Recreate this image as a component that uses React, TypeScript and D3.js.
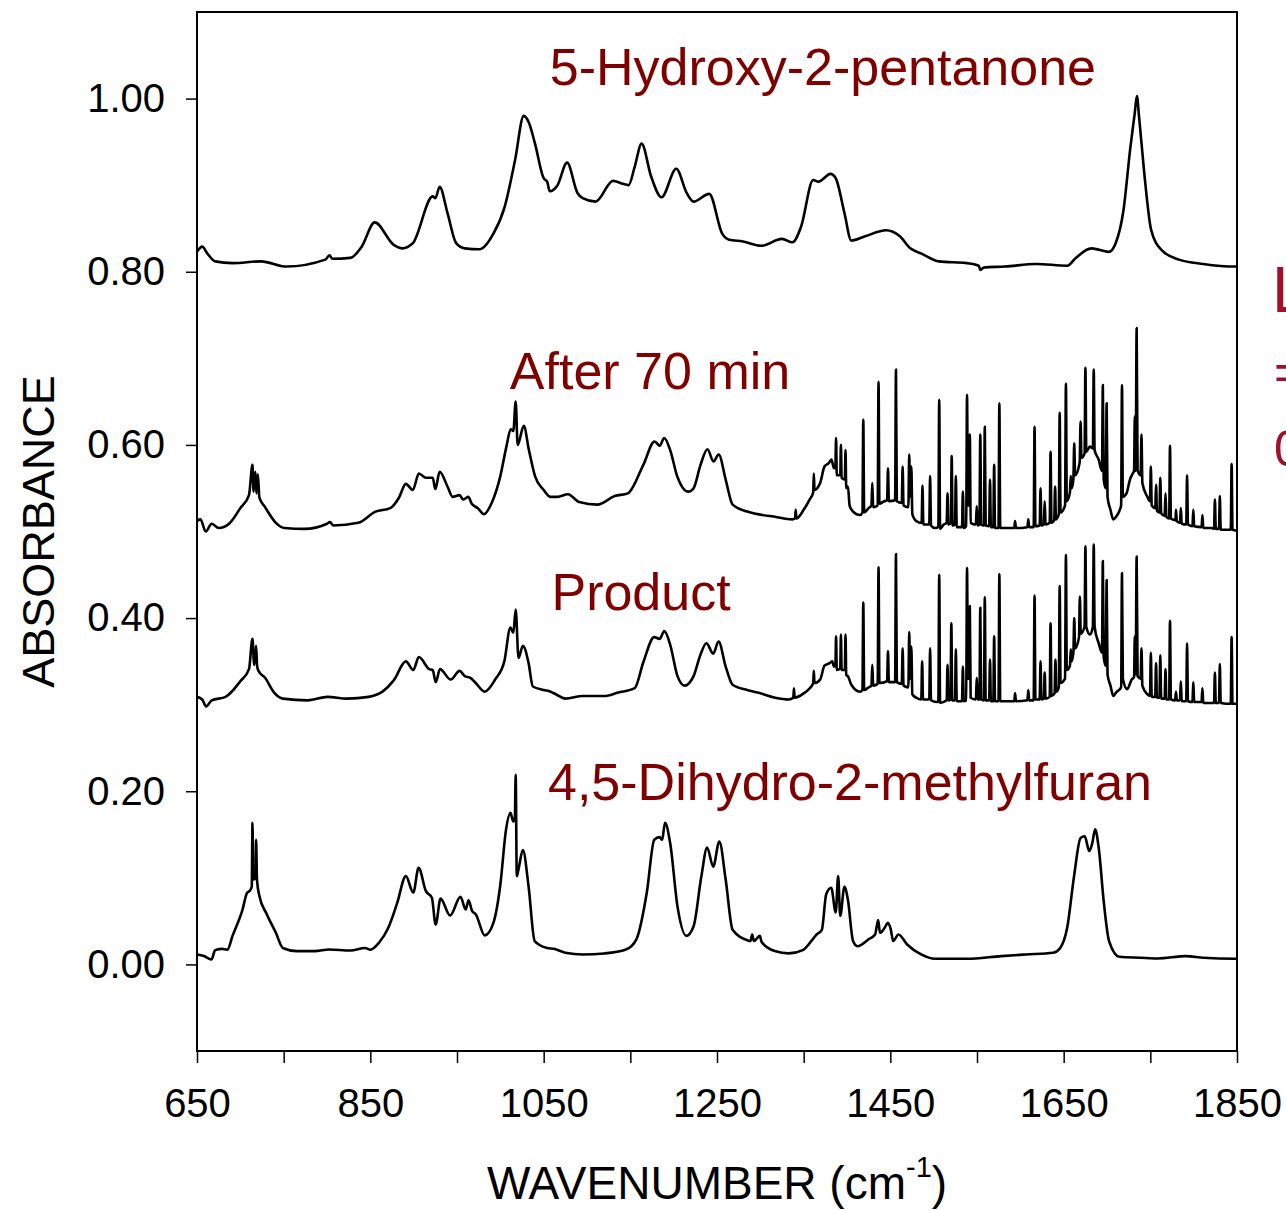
import { useEffect, useRef } from 'react'
import * as d3 from 'd3'

// Spectra: [wavenumber (cm-1), absorbance]
const hydroxyPentanone: [number, number][] = [
  [650, 0.823], [656, 0.829], [662, 0.821], [671, 0.812], [691, 0.81], [724, 0.812],
  [753, 0.806], [798, 0.814], [803, 0.819], [806, 0.815], [827, 0.816], [840, 0.829],
  [855, 0.857], [877, 0.831], [887, 0.827], [899, 0.833], [922, 0.887], [925, 0.885],
  [930, 0.898], [939, 0.868], [949, 0.833], [959, 0.827], [976, 0.826], [992, 0.844],
  [1005, 0.875], [1017, 0.929], [1027, 0.98], [1033, 0.972], [1040, 0.948], [1050, 0.908],
  [1054, 0.904], [1057, 0.893], [1066, 0.9], [1077, 0.926], [1089, 0.891], [1095, 0.885],
  [1110, 0.881], [1130, 0.905], [1140, 0.902], [1148, 0.9], [1155, 0.921], [1163, 0.948],
  [1174, 0.91], [1186, 0.886], [1203, 0.919], [1215, 0.891], [1223, 0.881], [1241, 0.89],
  [1256, 0.844], [1264, 0.837], [1280, 0.835], [1301, 0.83], [1325, 0.838], [1337, 0.834],
  [1347, 0.852], [1361, 0.906], [1367, 0.904], [1381, 0.913], [1387, 0.908], [1397, 0.868],
  [1405, 0.836], [1421, 0.841], [1445, 0.848], [1461, 0.841], [1473, 0.827], [1486, 0.821],
  [1506, 0.812], [1538, 0.81], [1552, 0.807], [1554, 0.802], [1558, 0.805], [1582, 0.806],
  [1618, 0.809], [1654, 0.807], [1664, 0.816], [1682, 0.827], [1702, 0.823], [1710, 0.833],
  [1719, 0.871], [1727, 0.944], [1732, 0.983], [1734.5, 1.003], [1737, 0.979], [1743, 0.914],
  [1751, 0.848], [1763, 0.825], [1783, 0.814], [1811, 0.809], [1847, 0.806], [1850, 0.806],
]

const after70Min: [number, number][] = [
  [650, 0.512], [654, 0.514], [660, 0.5], [667, 0.509], [675, 0.504], [687, 0.509],
  [700, 0.527], [710, 0.542], [714, 0.577], [715.3, 0.546], [717.3, 0.569], [718.6, 0.544],
  [720.2, 0.566], [722, 0.539], [728, 0.529], [741, 0.51], [751, 0.504], [774, 0.503],
  [800, 0.509], [803.5, 0.511], [807, 0.507], [836, 0.51], [856, 0.523], [873, 0.527],
  [883, 0.539], [891, 0.555], [899, 0.548], [906, 0.567], [914, 0.562], [922, 0.562],
  [925, 0.549], [930, 0.569], [939, 0.552], [945, 0.54], [953, 0.542], [957, 0.537],
  [963, 0.54], [967, 0.532], [974, 0.527], [981, 0.52], [990, 0.533], [1000, 0.564],
  [1007, 0.598], [1012, 0.618], [1015, 0.616], [1017.7, 0.65], [1020, 0.6], [1027, 0.622],
  [1033, 0.594], [1040, 0.564], [1050, 0.548], [1058, 0.54], [1066, 0.54], [1078, 0.543],
  [1091, 0.534], [1112, 0.531], [1132, 0.541], [1147, 0.544], [1165, 0.577], [1178, 0.604],
  [1184, 0.599], [1189, 0.608], [1196, 0.594], [1204, 0.564], [1217, 0.546], [1223, 0.55],
  [1231, 0.577], [1239, 0.595], [1246, 0.581], [1252, 0.589], [1260, 0.56], [1268, 0.531],
  [1285, 0.523], [1317, 0.517], [1337, 0.514], [1340, 0.515], [1340.8, 0.525], [1341.6, 0.515],
  [1350, 0.525], [1357, 0.537], [1361, 0.545], [1361.7, 0.567], [1362.5, 0.548], [1369, 0.556],
  [1374, 0.575], [1379, 0.579], [1382, 0.583], [1385, 0.573], [1386.6, 0.575], [1387.4, 0.608],
  [1388.2, 0.565], [1392.2, 0.565], [1393, 0.6], [1393.8, 0.562], [1397.5, 0.56], [1398.3, 0.594],
  [1399.1, 0.55], [1401.1, 0.552], [1403, 0.53], [1407, 0.523], [1415, 0.519], [1417.8, 0.522],
  [1418.8, 0.629], [1419.8, 0.522], [1425, 0.527], [1428.2, 0.53], [1429.2, 0.556], [1430.2, 0.528],
  [1435.4, 0.53], [1436.4, 0.673], [1437.4, 0.532], [1443, 0.535], [1446.3, 0.536], [1447.3, 0.573],
  [1448.3, 0.535], [1455.5, 0.536], [1456.5, 0.687], [1457.5, 0.535], [1463.2, 0.533], [1464.2, 0.575],
  [1465.2, 0.53], [1470.8, 0.528], [1471.8, 0.589], [1472.8, 0.54], [1474.2, 0.575], [1475.4, 0.52],
  [1480, 0.512], [1486.1, 0.51], [1487.1, 0.553], [1488.1, 0.508], [1494.9, 0.508], [1495.9, 0.564],
  [1496.9, 0.507], [1501.5, 0.504], [1505.4, 0.505], [1506.4, 0.652], [1507.4, 0.503], [1511.6, 0.508],
  [1515, 0.51], [1516, 0.544], [1517, 0.508], [1519.8, 0.51], [1520.8, 0.587], [1521.8, 0.507],
  [1524.6, 0.508], [1525.6, 0.564], [1526.6, 0.505], [1532.7, 0.505], [1533.7, 0.546], [1534.7, 0.504],
  [1537.5, 0.506], [1538.5, 0.658], [1539.5, 0.53], [1540.7, 0.53], [1541.7, 0.612], [1542.7, 0.51],
  [1548.7, 0.508], [1549.7, 0.529], [1550.7, 0.507], [1552.8, 0.508], [1553.8, 0.612], [1554.8, 0.508],
  [1558, 0.507], [1559, 0.621], [1560, 0.507], [1564, 0.506], [1565, 0.56], [1566, 0.505],
  [1568.8, 0.505], [1569.8, 0.577], [1570.8, 0.504], [1574.8, 0.504], [1575.8, 0.648], [1576.8, 0.504],
  [1593, 0.504], [1593.9, 0.512], [1595, 0.504], [1608.2, 0.505], [1609.2, 0.514], [1610.2, 0.505],
  [1615.4, 0.505], [1616.4, 0.621], [1617.4, 0.506], [1622.3, 0.507], [1623.3, 0.55], [1624.3, 0.507],
  [1627.1, 0.508], [1628.1, 0.535], [1629.1, 0.508], [1633.9, 0.51], [1634.9, 0.592], [1635.9, 0.51],
  [1639.1, 0.513], [1640.1, 0.552], [1641.1, 0.514], [1644.4, 0.52], [1645.4, 0.637], [1646.4, 0.522],
  [1651.6, 0.53], [1652.6, 0.671], [1653.6, 0.535], [1657.2, 0.545], [1658.2, 0.564], [1659.2, 0.55],
  [1661.2, 0.56], [1662.2, 0.602], [1663.2, 0.565], [1668.5, 0.58], [1669.5, 0.627], [1670.5, 0.585],
  [1674.1, 0.59], [1675.1, 0.689], [1676.1, 0.592], [1680.3, 0.598], [1683.7, 0.596], [1684.7, 0.687],
  [1685.7, 0.594], [1690.4, 0.583], [1694.2, 0.57], [1695.2, 0.669], [1696.2, 0.56], [1698.6, 0.55],
  [1699.6, 0.648], [1700.6, 0.54], [1704, 0.525], [1707.2, 0.514], [1710.4, 0.517], [1716.3, 0.53],
  [1717.3, 0.669], [1718.3, 0.54], [1722.5, 0.544], [1726.5, 0.56], [1729.7, 0.567], [1731.2, 0.57],
  [1732.1, 0.633], [1733.1, 0.57], [1734.2, 0.735], [1735.3, 0.571], [1738.8, 0.565], [1739.8, 0.612],
  [1740.8, 0.556], [1746.6, 0.54], [1749.6, 0.535], [1750.6, 0.575], [1751.6, 0.53], [1755.6, 0.527],
  [1756.6, 0.554], [1757.6, 0.524], [1760.5, 0.522], [1761.5, 0.562], [1762.5, 0.521], [1766.5, 0.518],
  [1767.5, 0.544], [1768.5, 0.517], [1771.7, 0.515], [1772.7, 0.599], [1773.7, 0.515], [1779, 0.513],
  [1779.6, 0.525], [1780.5, 0.512], [1784.2, 0.51], [1785.2, 0.527], [1786.2, 0.509], [1791.4, 0.508],
  [1792.4, 0.565], [1793.4, 0.508], [1798.6, 0.506], [1799.6, 0.525], [1800.6, 0.506], [1809.1, 0.505],
  [1810.1, 0.519], [1811.1, 0.504], [1820.9, 0.504], [1823.5, 0.503], [1824.5, 0.537], [1825.5, 0.503],
  [1829.2, 0.503], [1830.2, 0.541], [1831.2, 0.502], [1842.8, 0.502], [1843.8, 0.578], [1844.8, 0.502],
  [1850, 0.501],
]

const productSpectrum: [number, number][] = [
  [650, 0.309], [656, 0.306], [660.5, 0.298], [667, 0.305], [683, 0.309], [700, 0.327],
  [710, 0.341], [714, 0.376], [716, 0.346], [718.2, 0.368], [719.4, 0.344], [721, 0.339],
  [728.5, 0.331], [739, 0.314], [749, 0.307], [778, 0.305], [800.6, 0.309], [823, 0.307],
  [848, 0.309], [864, 0.315], [877, 0.328], [891, 0.35], [899.5, 0.34], [906, 0.355],
  [918, 0.341], [922, 0.34], [925.4, 0.326], [930.4, 0.341], [942.7, 0.329], [953, 0.339],
  [959, 0.333], [965.4, 0.331], [971.6, 0.325], [982, 0.315], [994, 0.329], [1004.6, 0.35],
  [1011.6, 0.389], [1015, 0.383], [1017.7, 0.41], [1021, 0.354], [1026, 0.368], [1032.6, 0.348],
  [1037.5, 0.321], [1050, 0.317], [1058, 0.315], [1064, 0.312], [1075, 0.307], [1095, 0.31],
  [1120, 0.31], [1136, 0.314], [1155, 0.319], [1165, 0.349], [1177.6, 0.378], [1183.8, 0.376],
  [1189.2, 0.385], [1196, 0.369], [1204.4, 0.333], [1212.6, 0.322], [1223, 0.333], [1231, 0.358],
  [1237.8, 0.371], [1245.6, 0.359], [1251.8, 0.373], [1260, 0.344], [1268, 0.323], [1285, 0.317],
  [1297, 0.314], [1317, 0.308], [1333, 0.306], [1338, 0.308], [1338.8, 0.319], [1339.6, 0.308],
  [1350, 0.313], [1357, 0.319], [1361, 0.325], [1361.7, 0.339], [1362.5, 0.325], [1369, 0.329],
  [1374, 0.345], [1380, 0.348], [1383, 0.35], [1385, 0.344], [1386.6, 0.345], [1387.4, 0.379],
  [1388.2, 0.34], [1392.2, 0.342], [1393, 0.381], [1393.8, 0.34], [1397.5, 0.34], [1398.3, 0.381],
  [1399.1, 0.334], [1401, 0.333], [1405, 0.323], [1415, 0.315], [1417.8, 0.317], [1418.8, 0.418],
  [1419.8, 0.317], [1425, 0.32], [1428.2, 0.322], [1429.2, 0.346], [1430.2, 0.322], [1435.4, 0.324],
  [1436.4, 0.459], [1437.4, 0.325], [1446.3, 0.327], [1447.3, 0.362], [1448.3, 0.326], [1455.5, 0.326],
  [1456.5, 0.474], [1457.5, 0.326], [1463.2, 0.324], [1464.2, 0.365], [1465.2, 0.322], [1470.8, 0.32],
  [1471.8, 0.384], [1472.8, 0.33], [1474.2, 0.367], [1475.4, 0.312], [1480, 0.308], [1485.7, 0.306],
  [1486.7, 0.35], [1487.7, 0.306], [1494.9, 0.306], [1495.9, 0.365], [1496.9, 0.305], [1505.4, 0.303],
  [1506.4, 0.45], [1507.4, 0.302], [1515, 0.305], [1516, 0.346], [1517, 0.305], [1519.4, 0.306],
  [1520.4, 0.394], [1521.4, 0.305], [1524.6, 0.305], [1525.6, 0.364], [1526.6, 0.304], [1532.7, 0.304],
  [1533.7, 0.344], [1534.7, 0.304], [1537.5, 0.305], [1538.5, 0.458], [1539.5, 0.33], [1540.7, 0.33],
  [1541.7, 0.414], [1542.7, 0.308], [1548.7, 0.306], [1549.7, 0.331], [1550.7, 0.306], [1552.8, 0.306],
  [1553.8, 0.412], [1554.8, 0.306], [1558, 0.305], [1559, 0.424], [1560, 0.305], [1564, 0.305],
  [1565, 0.352], [1566, 0.304], [1568.8, 0.304], [1569.8, 0.379], [1570.8, 0.304], [1574.8, 0.304],
  [1575.8, 0.451], [1576.8, 0.304], [1593, 0.304], [1593.9, 0.313], [1595, 0.304], [1608.2, 0.305],
  [1609.2, 0.317], [1610.2, 0.305], [1615.4, 0.305], [1616.4, 0.426], [1617.4, 0.306], [1622.3, 0.306],
  [1623.3, 0.35], [1624.3, 0.306], [1627.1, 0.307], [1628.1, 0.337], [1629.1, 0.307], [1633.9, 0.309],
  [1634.9, 0.394], [1635.9, 0.31], [1639.5, 0.313], [1640.5, 0.352], [1641.5, 0.315], [1644.4, 0.32],
  [1645.4, 0.437], [1646.4, 0.325], [1651.6, 0.33], [1652.6, 0.473], [1653.6, 0.34], [1657.2, 0.345],
  [1658.2, 0.364], [1659.2, 0.35], [1661.2, 0.36], [1662.2, 0.4], [1663.2, 0.365], [1667.7, 0.378],
  [1668.7, 0.425], [1669.7, 0.382], [1674.1, 0.39], [1675.1, 0.483], [1676.1, 0.39], [1680.3, 0.381],
  [1683.7, 0.39], [1684.7, 0.485], [1685.7, 0.39], [1690.4, 0.371], [1694.2, 0.36], [1695.2, 0.466],
  [1696.2, 0.355], [1698.6, 0.345], [1699.6, 0.444], [1700.6, 0.335], [1704, 0.322], [1707.2, 0.31],
  [1710.4, 0.314], [1716.3, 0.32], [1717.3, 0.452], [1718.3, 0.33], [1723.3, 0.318], [1728.5, 0.329],
  [1731.2, 0.332], [1732.1, 0.379], [1733.1, 0.335], [1734.2, 0.471], [1735.3, 0.333], [1738.8, 0.33],
  [1739.8, 0.365], [1740.8, 0.322], [1746.6, 0.312], [1749.6, 0.31], [1750.6, 0.36], [1751.6, 0.309],
  [1755.6, 0.309], [1756.6, 0.348], [1757.6, 0.308], [1760.5, 0.308], [1761.5, 0.357], [1762.5, 0.307],
  [1766.5, 0.307], [1767.5, 0.341], [1768.5, 0.306], [1771.7, 0.306], [1772.7, 0.397], [1773.7, 0.306],
  [1778.6, 0.305], [1779.6, 0.315], [1780.6, 0.305], [1784.2, 0.305], [1785.2, 0.327], [1786.2, 0.304],
  [1791.4, 0.304], [1792.4, 0.371], [1793.4, 0.304], [1798.6, 0.303], [1799.6, 0.326], [1800.6, 0.303],
  [1809.1, 0.303], [1810.1, 0.319], [1811.1, 0.302], [1823.5, 0.302], [1824.5, 0.337], [1825.5, 0.302],
  [1829.2, 0.302], [1830.2, 0.347], [1831.2, 0.302], [1842.8, 0.301], [1843.8, 0.378], [1844.8, 0.301],
  [1850, 0.301],
]

const dihydroMethylfuran: [number, number][] = [
  [650, 0.0115], [658, 0.0096], [666.6, 0.0057], [671, 0.0165], [679, 0.018], [685, 0.017],
  [691, 0.033], [702, 0.0615], [708, 0.083], [711, 0.085], [713.2, 0.09], [714, 0.1635], [715, 0.098],
  [717.4, 0.1], [718.2, 0.144], [719.2, 0.098], [722, 0.079], [730.5, 0.058], [741, 0.0365], [749, 0.019],
  [765, 0.0154], [786, 0.0154], [802.6, 0.0173], [827, 0.016], [844, 0.019], [850, 0.017],
  [860, 0.025], [870.6, 0.042], [881, 0.071], [891, 0.102], [899.5, 0.083], [905.7, 0.1115],
  [914, 0.085], [921, 0.077], [925.4, 0.046], [931, 0.076], [942, 0.0565], [954, 0.078],
  [960, 0.0635], [963.3, 0.074], [967.5, 0.0615], [971.6, 0.058], [982, 0.0335], [992, 0.048],
  [1000, 0.092], [1006.6, 0.156], [1011.6, 0.175], [1015, 0.165], [1016.8, 0.17], [1017.7, 0.219],
  [1019, 0.102], [1021, 0.11], [1026, 0.132], [1032.6, 0.09], [1039.6, 0.027], [1054, 0.019],
  [1062, 0.018], [1075, 0.0135], [1095, 0.0115], [1120, 0.0127], [1145, 0.0173], [1157, 0.029],
  [1169, 0.083], [1177.6, 0.144], [1183.8, 0.147], [1186.7, 0.144], [1190, 0.1635], [1196, 0.14],
  [1204.4, 0.067], [1214.7, 0.033], [1223, 0.044], [1232, 0.102], [1238.6, 0.135], [1245.6, 0.113],
  [1252.7, 0.142], [1260, 0.098], [1268, 0.04], [1285, 0.028], [1288.6, 0.027], [1290.6, 0.0346],
  [1292.6, 0.027], [1299.4, 0.033], [1301.5, 0.026], [1316.7, 0.0154], [1332.8, 0.0127], [1349, 0.0165],
  [1365, 0.0346], [1371, 0.04], [1376, 0.081], [1381.8, 0.0885], [1387, 0.06], [1389.8, 0.102],
  [1392.2, 0.056], [1397, 0.0896], [1401, 0.075], [1407, 0.027], [1412, 0.021], [1425, 0.029],
  [1432.4, 0.0346], [1436, 0.0512], [1438, 0.0365], [1443.3, 0.042], [1447.3, 0.048], [1450.5, 0.0404],
  [1453.3, 0.027], [1459.3, 0.0346], [1469.4, 0.023], [1485.5, 0.0115], [1501.5, 0.0065], [1537.7, 0.0065],
  [1578, 0.0096], [1606, 0.0115], [1638, 0.0135], [1646, 0.019], [1654, 0.042], [1662, 0.102],
  [1669.5, 0.146], [1674.3, 0.148], [1679.5, 0.131], [1683, 0.14], [1686.3, 0.156], [1690.4, 0.135],
  [1696.4, 0.071], [1702.4, 0.027], [1714.5, 0.0088], [1738.6, 0.0077], [1758.6, 0.0069], [1790.8, 0.0096],
  [1811, 0.0077], [1847, 0.0065], [1850, 0.0065],
]

const spectra = [hydroxyPentanone, after70Min, productSpectrum, dihydroMethylfuran]

// Labels of the spectra and where they sit (wavenumber, absorbance of baseline)
const spectrumLabels = ['5-Hydroxy-2-pentanone', 'After 70 min', 'Product', '4,5-Dihydro-2-methylfuran']
const labelWavenumbers = [1057, 1011, 1059, 1055]
const labelAbsorbances = [1.016, 0.665, 0.409, 0.190]

const xTicks = [650, 750, 850, 950, 1050, 1150, 1250, 1350, 1450, 1550, 1650, 1750, 1850]
const xTickLabels = [650, 850, 1050, 1250, 1450, 1650, 1850]
const yTicks = [0, 0.2, 0.4, 0.6, 0.8, 1.0]

const FONT = '"Liberation Sans", Arial, Helvetica, sans-serif'

const App = () => {
  const svgRef = useRef<SVGSVGElement>(null)
  const width = 1286
  const height = 1210
  const margin = { top: 12, right: 49, bottom: 159, left: 197 }
  const innerW = width - margin.left - margin.right
  const innerH = height - margin.top - margin.bottom

  useEffect(() => {
    const svgEl = d3.select(svgRef.current)
    svgEl.selectAll('*').remove()

    const xScale = d3.scaleLinear().domain([650, 1850]).range([0, innerW])
    const yScale = d3.scaleLinear().domain([-0.1, 1.1]).range([innerH, 0])

    const svg = svgEl
      .append('g')
      .attr('transform', `translate(${margin.left},${margin.top})`)

    svg
      .append('defs')
      .append('clipPath')
      .attr('id', 'plot-clip')
      .append('rect')
      .attr('width', innerW)
      .attr('height', innerH)

    // Spectra
    const line = d3
      .line<[number, number]>()
      .x((d) => xScale(d[0]))
      .y((d) => yScale(d[1]))
      .curve(d3.curveMonotoneX)

    svg
      .append('g')
      .attr('clip-path', 'url(#plot-clip)')
      .selectAll('path')
      .data(spectra)
      .enter()
      .append('path')
      .attr('fill', 'none')
      .attr('stroke', '#000')
      .attr('stroke-width', 2.6)
      .attr('stroke-linejoin', 'round')
      .attr('d', (d) => line(d))

    // Spectrum names
    svg
      .selectAll('.spectrum-label')
      .data(spectrumLabels)
      .enter()
      .append('text')
      .attr('x', (d, i) => xScale(labelWavenumbers[i]))
      .attr('y', (d, i) => yScale(labelAbsorbances[i]))
      .style('fill', '#800000')
      .style('font-family', FONT)
      .style('font-size', '52px')
      .text((d) => d)

    // Frame
    svg
      .append('rect')
      .attr('width', innerW)
      .attr('height', innerH)
      .attr('fill', 'none')
      .attr('stroke', '#000')
      .attr('stroke-width', 2)

    // X axis
    const xAxis = d3
      .axisBottom(xScale)
      .tickValues(xTicks)
      .tickSize(12)
      .tickPadding(26)
      .tickFormat((d) => (xTickLabels.includes(+d) ? String(d) : ''))
    const xAxisGroup = svg
      .append('g')
      .attr('transform', `translate(0,${innerH})`)
      .call(xAxis)
    xAxisGroup.select('.domain').remove()
    xAxisGroup.selectAll('line').attr('stroke', '#000').attr('stroke-width', 1.5)
    xAxisGroup
      .selectAll('text')
      .attr('fill', '#000')
      .style('font-family', FONT)
      .style('font-size', '40px')

    // Y axis
    const yAxis = d3
      .axisLeft(yScale)
      .tickValues(yTicks)
      .tickSize(11)
      .tickPadding(21)
      .tickFormat(d3.format('.2f'))
    const yAxisGroup = svg.append('g').call(yAxis)
    yAxisGroup.select('.domain').remove()
    yAxisGroup.selectAll('line').attr('stroke', '#000').attr('stroke-width', 1.5)
    yAxisGroup
      .selectAll('text')
      .attr('fill', '#000')
      .style('font-family', FONT)
      .style('font-size', '40px')

    // Axis titles
    const xTitle = svgEl
      .append('text')
      .attr('x', margin.left + innerW / 2)
      .attr('y', 1199)
      .attr('text-anchor', 'middle')
      .style('font-family', FONT)
      .style('font-size', '46px')
      .style('fill', '#000')
    xTitle.append('tspan').text('WAVENUMBER (cm')
    xTitle.append('tspan').attr('dy', -22).style('font-size', '29px').text('-1')
    xTitle.append('tspan').attr('dy', 22).text(')')

    svgEl
      .append('text')
      .attr('transform', `translate(54,${margin.top + innerH / 2}) rotate(-90)`)
      .attr('text-anchor', 'middle')
      .style('font-family', FONT)
      .style('font-size', '45px')
      .style('fill', '#000')
      .text('ABSORBANCE')

    // Note at right edge, cut by the page border as in the original figure
    const note = svgEl
      .append('g')
      .style('font-family', FONT)
      .style('fill', '#a0102a')
    note.append('text').attr('x', 1272).attr('y', 312).style('font-size', '64px').text('L')
    note.append('text').attr('x', 1274).attr('y', 389).style('font-size', '50px').text('=')
    note.append('text').attr('x', 1274).attr('y', 466).style('font-size', '50px').text('0')
  }, [innerH, innerW, margin.left, margin.top])

  return (
    <svg
      ref={svgRef}
      width={width}
      height={height}
      style={{ position: 'absolute', left: 0, top: 0, background: '#fff' }}
    />
  )
}

export default App
